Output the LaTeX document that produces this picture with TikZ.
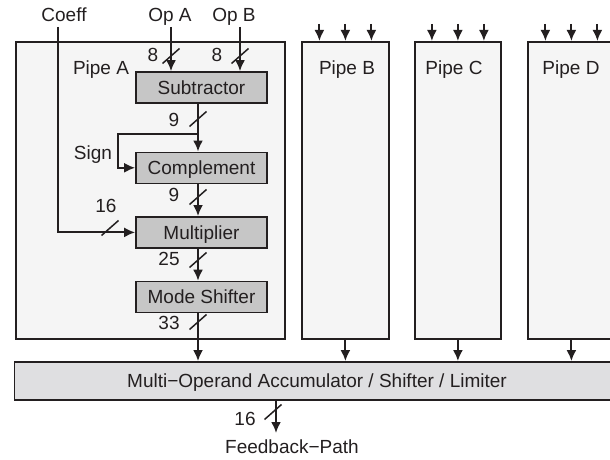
\documentclass[tikz,border=0pt]{standalone}
\usepackage{fontspec}
\setmainfont{Liberation Sans}
\usetikzlibrary{arrows.meta,positioning}
\definecolor{ink}{HTML}{231F20}
\definecolor{pipefill}{HTML}{F5F5F5}
\definecolor{unitfill}{HTML}{C6C6C6}
\definecolor{accfill}{HTML}{DFDFE1}
\newcommand\diagfont{\fontsize{9.5}{11}\selectfont}
\tikzset{
  pipe/.style={draw=ink,line width=0.9pt,fill=pipefill,anchor=north west,minimum height=148.5pt,inner sep=0pt},
  unit/.style={draw=ink,line width=0.8pt,fill=unitfill,minimum width=65.5pt,minimum height=15.5pt,inner sep=0pt,font=\diagfont,text=ink,text height=6.8pt,text depth=0pt},
  acc/.style={draw=ink,line width=0.9pt,fill=accfill,minimum width=302.5pt,minimum height=19pt,inner sep=0pt,font=\diagfont,text=ink,text height=6.8pt,text depth=0pt},
  txt/.style={font=\diagfont,text=ink,inner sep=0pt,text height=6.8pt,text depth=0pt},
  arr/.style={-{Latex[length=5.5pt,width=5pt]},line width=1.05pt,color=ink},
  bus/.style={line width=0.75pt,color=ink}}
\begin{document}
\begin{tikzpicture}[x=0.5pt,y=-0.5pt,node distance=16pt]
\useasboundingbox (0,0) rectangle (610,460);
% pipes
\node[pipe,minimum width=134.5pt] (pipeA) at (15,41) {};
\node[pipe,minimum width=43.5pt] (pipeB) at (301,41) {};
\node[pipe,minimum width=43pt] (pipeC) at (414,41) {};
\node[pipe,minimum width=43.5pt] (pipeD) at (527,41) {};
\node[txt] (labA) at (101,68) {Pipe A};
\node[txt] (labB) at (347,68) {Pipe B};
\node[txt] (labC) at (454,68) {Pipe C};
\node[txt] (labD) at (571,68) {Pipe D};
% datapath of pipe A
\node[unit] (sub) at (201.5,87.5) {Subtractor};
\node[unit,below=23.85pt of sub] (comp) {Complement};
\node[unit,below=of comp] (mul) {Multiplier};
\node[unit,below=of mul] (mode) {Mode Shifter};
\node[acc] (acc) at (317,381) {Multi−Operand Accumulator / Shifter / Limiter};
% inputs
\node[txt] (coeff) at (64,15) {Coeff};
\node[txt] (opA) at (170,15) {Op A};
\node[txt] (opB) at (234,15) {Op B};
\coordinate (inC) at (58,27);
\coordinate (inA) at (171,27);
\coordinate (inB) at (240,27);
\coordinate (trunk) at (198,0);
\coordinate (tap) at (198,134);
\draw[arr] (inA) -- (inA |- sub.north);
\draw[arr] (inB) -- (inB |- sub.north);
\draw[arr] (inC) |- (mul.west);
\draw[arr] (sub.south -| trunk) -- (comp.north -| trunk);
\draw[arr] (tap) -- ++(-40pt,0) |- (comp.west);
\node[txt] (sign) at (93,153) {Sign};
\draw[arr] (comp.south -| trunk) -- (mul.north -| trunk);
\draw[arr] (mul.south -| trunk) -- (mode.north -| trunk);
\draw[arr] (mode.south -| trunk) -- (acc.north -| trunk);
% other pipes
\foreach \p in {pipeB,pipeC,pipeD}{
  \foreach \dx in {-13,0,13}
    \draw[arr] ([xshift=\dx pt,yshift=8.5pt]\p.north) -- ([xshift=\dx pt]\p.north);
  \draw[arr] (\p.south) -- (\p.south |- acc.north);
}
% feedback
\coordinate (fbtip) at (276,433);
\draw[arr] (acc.south -| fbtip) -- (fbtip);
\node[txt] (fb) at (292,447) {Feedback−Path};
% bus widths
\foreach \x/\y/\w/\lx/\ly [count=\i] in {171/56/8/153/55, 240/56/8/217/55, 198/119/9/174/120,
    198/197/9/174/195, 110/228/16/106/206, 198/260/25/169/259, 198/322/33/169/323, 273/412/16/245/419}{
  \draw[bus] (\x,\y) ++(-4.25pt,-3.75pt) -- ++(8.5pt,7.5pt);
  \node[txt] (bw\i) at (\lx,\ly) {\w};
}
\end{tikzpicture}
\end{document}
